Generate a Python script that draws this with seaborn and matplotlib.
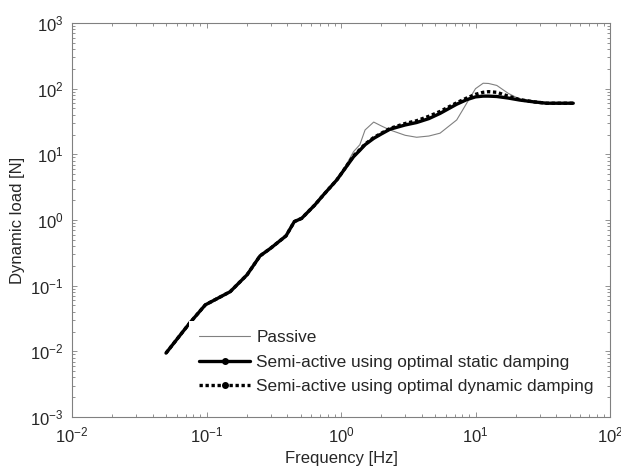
import numpy as np
import pandas as pd
import matplotlib
matplotlib.use("Agg")
import matplotlib.pyplot as plt
from matplotlib.lines import Line2D
from matplotlib.ticker import LogLocator, NullFormatter
import seaborn as sns

# ---- data ----
freq = [0.05, 0.075, 0.098, 0.15, 0.20, 0.25, 0.30, 0.39, 0.45, 0.51, 0.64, 0.74,
        0.93, 1.0, 1.24, 1.38, 1.51, 1.75, 2.0, 2.31, 3.0, 3.65, 4.5, 5.45, 7.25,
        8.6, 10.0, 11.4, 12.5, 14.4, 17.5, 21.4, 27.0, 33.8, 53.3]

static_load = [0.0094, 0.027, 0.051, 0.081, 0.146, 0.284, 0.372, 0.573, 0.946, 1.06,
               1.70, 2.41, 4.07, 5.0, 9.2, 11.5, 14.0, 17.5, 20.5, 24.1, 28.0, 30.5,
               35.0, 42.0, 58.0, 68.0, 75.0, 77.0, 77.0, 76.0, 72.0, 67.0, 63.0, 60.0, 60.0]

passive_load = [0.0094, 0.027, 0.051, 0.081, 0.146, 0.284, 0.372, 0.573, 0.946, 1.06,
                1.70, 2.41, 4.07, 5.0, 11.0, 14.0, 23.5, 31.0, 27.0, 23.5, 19.5, 18.2,
                19.0, 21.0, 33.4, 60.0, 100.0, 121.0, 120.0, 112.0, 85.0, 69.0, 63.0, 60.0, 60.0]

dynamic_load = [0.0094, 0.027, 0.051, 0.081, 0.146, 0.284, 0.372, 0.573, 0.946, 1.06,
                1.70, 2.41, 4.07, 5.0, 9.5, 11.8, 14.3, 18.0, 21.0, 24.8, 29.5, 32.5,
                38.0, 45.0, 61.0, 72.0, 82.0, 88.0, 90.0, 88.0, 77.0, 68.0, 63.0, 60.0, 60.0]

labels = ["Passive",
          "Semi-active using optimal static damping",
          "Semi-active using optimal dynamic damping"]

df = pd.DataFrame({"freq": freq, "passive": passive_load,
                   "static": static_load, "dynamic": dynamic_load})

sns.set_style("ticks")
plt.rcParams["font.family"] = ["Liberation Sans", "DejaVu Sans"]
plt.rcParams["mathtext.fontset"] = "custom"
plt.rcParams["mathtext.rm"] = "Liberation Sans"
plt.rcParams["mathtext.it"] = "Liberation Sans"

fig = plt.figure(figsize=(6.21, 4.71), dpi=100)
ax = fig.add_axes([72 / 621, 1 - 417 / 471, 538 / 621, 394 / 471])

sns.lineplot(data=df, x="freq", y="passive", ax=ax, color="#808080",
             linewidth=0.8, estimator=None, legend=False)
sns.lineplot(data=df, x="freq", y="static", ax=ax, color="black",
             linewidth=2.4, estimator=None, legend=False)
sns.lineplot(data=df, x="freq", y="dynamic", ax=ax, color="black",
             linewidth=2.4, linestyle=(0, (1, 0.8)), estimator=None, legend=False)

ax.set_xscale("log")
ax.set_yscale("log")
ax.set_xlim(1e-2, 1e2)
ax.set_ylim(1e-3, 1e3)
ax.xaxis.set_major_locator(LogLocator(base=10, numticks=10))
ax.yaxis.set_major_locator(LogLocator(base=10, numticks=10))
ax.xaxis.set_minor_locator(LogLocator(base=10, subs=np.arange(2, 10), numticks=20))
ax.yaxis.set_minor_locator(LogLocator(base=10, subs=np.arange(2, 10), numticks=20))
ax.xaxis.set_minor_formatter(NullFormatter())
ax.yaxis.set_minor_formatter(NullFormatter())

for s in ax.spines.values():
    s.set_visible(True)
    s.set_color("#808080")
    s.set_linewidth(0.8)
ax.tick_params(which="both", direction="in", top=True, right=True,
               color="#808080", width=0.6)
ax.tick_params(which="major", length=3.5, labelsize=12, pad=6)
ax.tick_params(which="minor", length=2)

ax.set_xlabel("Frequency [Hz]", fontsize=12, labelpad=4)
ax.set_ylabel("Dynamic load [N]", fontsize=12, labelpad=4)

handles = [Line2D([], [], color="#808080", linewidth=0.8),
           Line2D([], [], color="black", linewidth=2.4, marker="o", markersize=4),
           Line2D([], [], color="black", linewidth=2.4, linestyle=(0, (1, 0.8)),
                  marker="o", markersize=4)]
leg = ax.legend(handles, labels, loc="upper left", bbox_to_anchor=(0.218, 0.244),
                borderaxespad=0, frameon=True, fancybox=False, fontsize=12.4,
                handlelength=3.0, handletextpad=0.35, labelspacing=0.55,
                borderpad=0.55, numpoints=1)
leg.get_frame().set_facecolor("white")
leg.get_frame().set_edgecolor("none")
leg.get_frame().set_alpha(1)

fig.savefig("out.png", dpi=100)
